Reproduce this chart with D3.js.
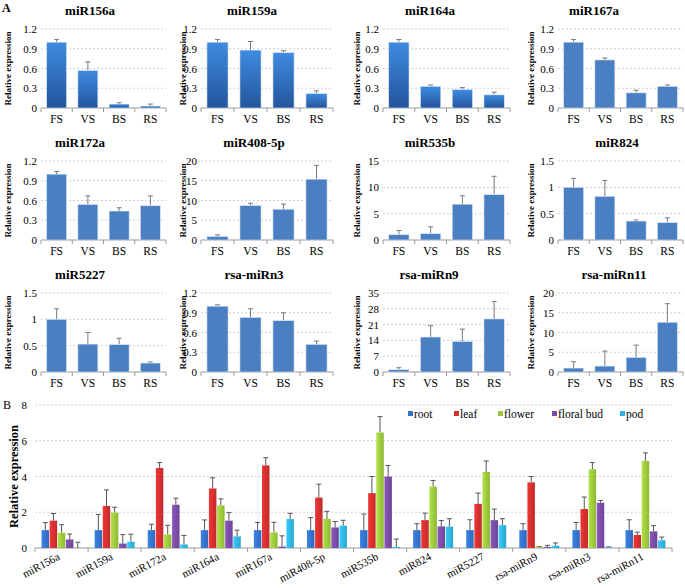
<!DOCTYPE html>
<html>
<head>
<meta charset="utf-8">
<script src="https://cdn.jsdelivr.net/npm/d3@7"></script>
<style>
body { margin: 0; background: #fff; }
svg text { font-family: 'Liberation Serif', 'Times New Roman', 'DejaVu Serif', serif !important; fill: #000; }
</style>
</head>
<body>
<div id="chart"></div>
<script>
// ---- panel A : expression over stages ----
var stages = ["FS", "VS", "BS", "RS"];
var mirNames = ["miR156a", "miR159a", "miR164a", "miR167a",
                "miR172a", "miR408-5p", "miR535b", "miR824",
                "miR5227", "rsa-miRn3", "rsa-miRn9", "rsa-miRn11"];
var stageMeans = [
  [1.0, 0.57, 0.06, 0.03],
  [1.0, 0.88, 0.84, 0.22],
  [1.0, 0.33, 0.28, 0.20],
  [1.0, 0.73, 0.23, 0.33],
  [1.0, 0.54, 0.44, 0.52],
  [0.9, 8.7, 7.8, 15.4],
  [1.0, 1.2, 6.8, 8.6],
  [1.0, 0.83, 0.36, 0.33],
  [1.0, 0.53, 0.52, 0.17],
  [1.0, 0.83, 0.78, 0.42],
  [1.0, 15.5, 13.5, 23.5],
  [1.0, 1.5, 3.7, 12.6]
];
var stageErrs = [
  [0.04, 0.13, 0.02, 0.03],
  [0.04, 0.13, 0.03, 0.04],
  [0.04, 0.02, 0.03, 0.04],
  [0.04, 0.03, 0.04, 0.02],
  [0.04, 0.13, 0.05, 0.15],
  [0.4, 0.6, 1.3, 3.5],
  [0.8, 1.3, 1.6, 3.5],
  [0.17, 0.3, 0.02, 0.09],
  [0.2, 0.22, 0.12, 0.02],
  [0.02, 0.13, 0.12, 0.05],
  [0.9, 5.0, 5.5, 7.7],
  [1.6, 3.8, 3.1, 4.7]
];
var yMax  = [1.2, 1.2, 1.2, 1.2, 1.2, 20, 15, 1.5, 1.5, 1.2, 35, 20];
var yStep = [0.3, 0.3, 0.3, 0.3, 0.3, 5, 5, 0.5, 0.5, 0.3, 7, 5];

// ---- panel B : expression over tissues ----
var tissues = ["root", "leaf", "flower", "floral bud", "pod"];
var tissueMirs = ["miR156a", "miR159a", "miR172a", "miR164a", "miR167a", "miR408-5p",
                  "miR535b", "miR824", "miR5227", "rsa-miRn9", "rsa-miRn3", "rsa-miRn11"];
var tissueMeans = [
  [1.0, 1.53, 0.85, 0.48, 0.0],
  [1.0, 2.35, 1.98, 0.25, 0.35],
  [1.0, 4.48, 0.75, 2.42, 0.2],
  [1.0, 3.33, 2.38, 1.53, 0.65],
  [1.0, 4.62, 0.87, 0.08, 1.62],
  [1.0, 2.82, 1.63, 1.15, 1.25],
  [1.0, 3.07, 6.46, 4.0, 0.05],
  [1.0, 1.56, 3.44, 1.21, 1.19],
  [1.0, 2.47, 4.26, 1.56, 1.28],
  [1.0, 3.67, 0.05, 0.05, 0.13],
  [1.0, 2.18, 4.41, 2.53, 0.04],
  [1.0, 0.73, 4.87, 0.93, 0.43]
];
var tissueErrs = [
  [0.42, 0.4, 0.45, 0.3, 0.32],
  [0.88, 0.9, 0.3, 0.5, 0.42],
  [0.33, 0.3, 0.52, 0.37, 0.5],
  [0.57, 0.6, 0.37, 0.45, 0.35],
  [0.43, 0.43, 0.57, 0.6, 0.32],
  [0.7, 0.75, 0.42, 0.33, 0.3],
  [0.9, 0.93, 0.89, 0.61, 0.45],
  [0.36, 0.39, 0.34, 0.33, 0.45],
  [0.58, 0.6, 0.61, 0.62, 0.36],
  [0.36, 0.33, 0.02, 0.1, 0.15],
  [0.43, 0.67, 0.37, 0.13, 0.02],
  [0.58, 0.16, 0.45, 0.32, 0.18]
];
var tissueTicks = [0, 2, 4, 6, 8];
var tissueColors = ["#3473cc", "#d42f2f", "#9cc83c", "#7a4ca6", "#30b4df"];

var width = 685, height = 588;
var serif = "'Liberation Serif', 'Times New Roman', serif";

var svg = d3.select("#chart").append("svg")
  .attr("width", width)
  .attr("height", height)
  .attr("font-family", serif);

var defs = svg.append("defs");
var grad = defs.append("linearGradient")
  .attr("id", "darkBlue")
  .attr("x1", 0).attr("y1", 0).attr("x2", 0).attr("y2", 1);
grad.append("stop").attr("offset", "0%").attr("stop-color", "#3f8be0");
grad.append("stop").attr("offset", "100%").attr("stop-color", "#23559c");

tissueColors.forEach(function(c, i){
  var g = defs.append("linearGradient")
    .attr("id", "tis" + i)
    .attr("x1", 0).attr("y1", 0).attr("x2", 1).attr("y2", 0);
  g.append("stop").attr("offset", "0%").attr("stop-color", d3.color(c).brighter(0.35));
  g.append("stop").attr("offset", "100%").attr("stop-color", d3.color(c).darker(0.25));
});

// layout of the 4x3 small charts
var colX = [[41, 166], [201, 333], [383, 510], [558, 683]];
var colTitleY = [8, 183, 357, 531];
var rowTop = [29, 161, 293];
var plotH = 79;
var titleX = [[90, 252, 430, 594], [80, 254, 430, 617], [80, 254, 429, 614]];

svg.append("text")
  .attr("x", 2).attr("y", 12)
  .style("font-size", "12px").style("font-weight", "bold")
  .text("A");

mirNames.forEach(function(name, k){
  var r = Math.floor(k / 4), c = k % 4;
  var x0 = colX[c][0], x1 = colX[c][1];
  var top = rowTop[r], base = top + plotH;

  var x = d3.scaleBand().domain(stages).range([x0, x1]).paddingInner(0.36).paddingOuter(0.18);
  var xb = d3.scaleBand().domain(stages).range([x0, x1]);
  var y = d3.scaleLinear().domain([0, yMax[k]]).range([base, top]);
  var ticks = d3.range(0, yMax[k] + yStep[k] / 2, yStep[k]).map(function(v){ return +v.toFixed(2); });

  var g = svg.append("g");

  // dotted gridlines
  g.selectAll(".grid").data(ticks.slice(1)).enter().append("line")
    .attr("x1", x0).attr("x2", x1)
    .attr("y1", function(d){ return y(d); })
    .attr("y2", function(d){ return y(d); })
    .attr("stroke", "#cfcfcf")
    .attr("stroke-dasharray", "2,2");

  var yAxis = d3.axisLeft(y).tickValues(ticks).tickSize(0).tickPadding(4)
    .tickFormat(d3.format("~g"));
  g.append("g").attr("transform", "translate(" + x0 + ",0)").call(yAxis)
    .attr("font-family", serif)
    .attr("font-size", 11)
    .call(function(a){ a.select(".domain").remove(); });

  // x axis with ticks between categories
  g.append("line")
    .attr("x1", x0).attr("x2", x1).attr("y1", base).attr("y2", base)
    .attr("stroke", "#999");
  g.selectAll(".tk").data(stages.concat(["end"])).enter().append("line")
    .attr("x1", function(d, i){ return x0 + i * xb.bandwidth(); })
    .attr("x2", function(d, i){ return x0 + i * xb.bandwidth(); })
    .attr("y1", base).attr("y2", base + 4)
    .attr("stroke", "#999");
  g.selectAll(".xl").data(stages).enter().append("text")
    .attr("x", function(d){ return xb(d) + xb.bandwidth() / 2; })
    .attr("y", base + 15)
    .attr("text-anchor", "middle")
    .style("font-size", "11.5px")
    .text(function(d){ return d; });

  var fill = k < 3 ? "url(#darkBlue)" : "#4a7fc2";
  var vals = stageMeans[k].map(function(v, i){ return {s: stages[i], v: v, e: stageErrs[k][i]}; });

  // error bars (upper only)
  g.selectAll(".err").data(vals).enter().append("line")
    .attr("x1", function(d){ return x(d.s) + x.bandwidth() / 2; })
    .attr("x2", function(d){ return x(d.s) + x.bandwidth() / 2; })
    .attr("y1", function(d){ return y(d.v); })
    .attr("y2", function(d){ return y(d.v + d.e); })
    .attr("stroke", "#7a7a7a");
  g.selectAll(".cap").data(vals).enter().append("line")
    .attr("x1", function(d){ return x(d.s) + x.bandwidth() / 2 - 2.5; })
    .attr("x2", function(d){ return x(d.s) + x.bandwidth() / 2 + 2.5; })
    .attr("y1", function(d){ return y(d.v + d.e); })
    .attr("y2", function(d){ return y(d.v + d.e); })
    .attr("stroke", "#7a7a7a");

  g.selectAll(".bar").data(vals).enter().append("rect")
    .attr("x", function(d){ return x(d.s); })
    .attr("width", x.bandwidth())
    .attr("y", function(d){ return y(d.v); })
    .attr("height", function(d){ return base - y(d.v); })
    .attr("fill", fill)
    .attr("stroke", "#dfe8f5")
    .attr("stroke-width", 0.6);

  g.append("text")
    .attr("transform", "translate(" + colTitleY[c] + "," + (top + plotH / 2) + ") rotate(-90)")
    .attr("text-anchor", "middle")
    .attr("dy", "0.35em")
    .style("font-size", "9px").style("font-weight", "bold")
    .text("Relative expression");

  g.append("text")
    .attr("x", titleX[r][c]).attr("y", top - 14)
    .attr("text-anchor", "middle")
    .style("font-size", "13px").style("font-weight", "bold")
    .text(name);
});

// ---- panel B ----
var bx0 = 35, bx1 = 672, bTop = 405, bBase = 548;
var bx = d3.scaleBand().domain(tissueMirs).range([bx0, bx1]);
var inner = d3.scaleBand().domain(tissues).range([0, 40]).paddingInner(0.08);
var by = d3.scaleLinear().domain([0, 8]).range([bBase, bTop]);

svg.append("text")
  .attr("x", 3).attr("y", 409)
  .style("font-size", "12px")
  .text("B");

var gb = svg.append("g");
gb.selectAll(".grid").data(tissueTicks.slice(1)).enter().append("line")
  .attr("x1", bx0).attr("x2", bx1)
  .attr("y1", function(d){ return by(d); })
  .attr("y2", function(d){ return by(d); })
  .attr("stroke", "#cfcfcf")
  .attr("stroke-dasharray", "2,2");

gb.append("g").attr("transform", "translate(" + bx0 + ",0)")
  .call(d3.axisLeft(by).tickValues(tissueTicks).tickSize(0).tickPadding(8))
  .attr("font-family", serif)
  .attr("font-size", 11)
  .call(function(a){ a.select(".domain").remove(); });

gb.append("line")
  .attr("x1", bx0).attr("x2", bx1).attr("y1", bBase).attr("y2", bBase)
  .attr("stroke", "#999");
gb.selectAll(".tk").data(d3.range(tissueMirs.length + 1)).enter().append("line")
  .attr("x1", function(i){ return bx0 + i * bx.bandwidth(); })
  .attr("x2", function(i){ return bx0 + i * bx.bandwidth(); })
  .attr("y1", bBase).attr("y2", bBase + 4)
  .attr("stroke", "#999");

gb.selectAll(".xl").data(tissueMirs).enter().append("text")
  .attr("transform", function(d){
    return "translate(" + (bx(d) + bx.bandwidth() / 2 - 1) + "," + (bBase + 11) + ") rotate(-28)";
  })
  .attr("text-anchor", "end")
  .style("font-size", "11px")
  .text(function(d){ return d; });

var groups = gb.selectAll(".grp").data(tissueMirs).enter().append("g")
  .attr("transform", function(d){ return "translate(" + (bx(d) + (bx.bandwidth() - 40) / 2) + ",0)"; });

groups.each(function(m, gi){
  var vals = tissueMeans[gi].map(function(v, i){ return {t: tissues[i], i: i, v: v, e: tissueErrs[gi][i]}; });
  var sel = d3.select(this);
  sel.selectAll(".err").data(vals).enter().append("line")
    .attr("x1", function(d){ return inner(d.t) + inner.bandwidth() / 2; })
    .attr("x2", function(d){ return inner(d.t) + inner.bandwidth() / 2; })
    .attr("y1", function(d){ return by(d.v); })
    .attr("y2", function(d){ return by(d.v + d.e); })
    .attr("stroke", "#555");
  sel.selectAll(".cap").data(vals).enter().append("line")
    .attr("x1", function(d){ return inner(d.t) + inner.bandwidth() / 2 - 2.5; })
    .attr("x2", function(d){ return inner(d.t) + inner.bandwidth() / 2 + 2.5; })
    .attr("y1", function(d){ return by(d.v + d.e); })
    .attr("y2", function(d){ return by(d.v + d.e); })
    .attr("stroke", "#555");
  sel.selectAll(".bar").data(vals).enter().append("rect")
    .attr("x", function(d){ return inner(d.t); })
    .attr("width", inner.bandwidth())
    .attr("y", function(d){ return by(d.v); })
    .attr("height", function(d){ return bBase - by(d.v); })
    .attr("fill", function(d){ return "url(#tis" + d.i + ")"; });
});

gb.append("text")
  .attr("transform", "translate(14," + ((bTop + bBase) / 2) + ") rotate(-90)")
  .attr("text-anchor", "middle")
  .attr("dy", "0.35em")
  .style("font-size", "12.5px").style("font-weight", "bold")
  .text("Relative expression");

// legend
var legendX = [408, 454, 498, 552, 620];
var leg = gb.selectAll(".leg").data(tissues).enter().append("g")
  .attr("transform", function(d, i){ return "translate(" + legendX[i] + ",414)"; });
leg.append("rect")
  .attr("x", 0).attr("y", -3).attr("width", 5).attr("height", 5)
  .attr("fill", function(d, i){ return tissueColors[i]; });
leg.append("text")
  .attr("x", 6).attr("y", 0).attr("dy", "0.35em")
  .style("font-size", "11.5px")
  .text(function(d){ return d; });
</script>
</body>
</html>
